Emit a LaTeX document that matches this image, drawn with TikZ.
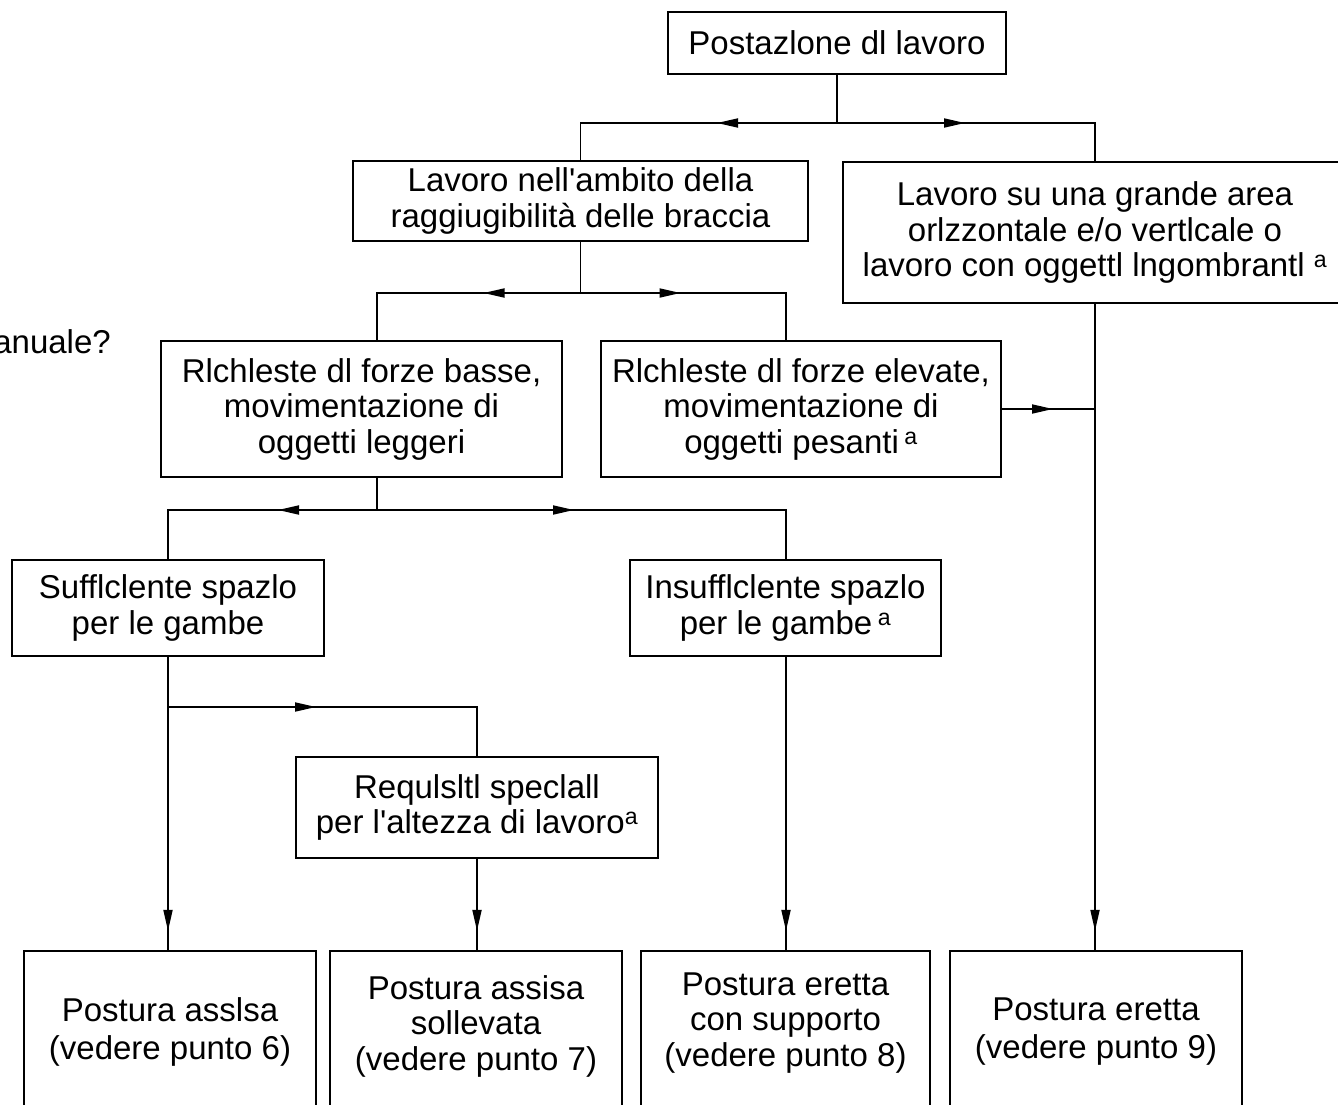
\documentclass[tikz,border=0pt]{standalone}
\usepackage{fontspec}
\setmainfont{Liberation Sans}
\usetikzlibrary{arrows.meta,decorations.markings}
\newcommand\dfont{\fontsize{33}{35.5}\selectfont}
\newcommand\supa{\textsuperscript{a}}
\begin{document}
\begin{tikzpicture}[x=1pt,y=-1pt,
  ln/.style={line width=1.8pt},
  box/.style={draw,line width=1.8pt,inner sep=0pt,align=center,font=\dfont},
  txt/.style={inner sep=0pt,align=center,font=\dfont},
  arrowat/.style={postaction={decorate,decoration={markings,
      mark=at position #1 with {\arrow{Triangle[length=21pt,width=9pt]}}}}}]
\useasboundingbox (0,0) rectangle (1338,1105);
\clip (0,0) rectangle (1338,1105);
\fill[white] (0,0) rectangle (1338,1105);

% boxes
\node[box,minimum width=338,minimum height=62] (top) at (837,43) {Postazlone dl lavoro};
\node[box,minimum width=455,minimum height=80] (lav1) at (580.5,201)
  {Lavoro nell\textquotesingle ambito della\\raggiugibilità delle braccia};
\node[box,minimum width=504,minimum height=141] (big) at (1095,232.5)
  {Lavoro su una grande area\\orlzzontale e/o vertlcale o\\lavoro con oggettl lngombrantl \supa};
\node[box,minimum width=401,minimum height=136] (rich1) at (361.5,409)
  {Rlchleste dl forze basse,\\movimentazione di\\oggetti leggeri};
\node[box,minimum width=400,minimum height=136] (rich2) at (801,409)
  {Rlchleste dl forze elevate,\\movimentazione di\\oggetti pesanti\,\supa};
\node[box,minimum width=312,minimum height=96] (suff) at (168,608)
  {Sufflclente spazlo\\per le gambe};
\node[box,minimum width=311,minimum height=96] (insuff) at (785.5,608)
  {Insufflclente spazlo\\per le gambe\,\supa};
\node[box,minimum width=362,minimum height=101] (req) at (477,807.5)
  {Requlsltl speclall\\per l\textquotesingle altezza di lavoro\supa};

\node[box,minimum width=292,minimum height=200] (p1) at (170,1051) {};
\node[box,minimum width=292,minimum height=200] (p2) at (476,1051) {};
\node[box,minimum width=289,minimum height=200] (p3) at (785.5,1051) {};
\node[box,minimum width=292,minimum height=200] (p4) at (1096,1051) {};
\node[txt,font=\fontsize{33}{38}\selectfont] (p1t) at (170,1032) {Postura asslsa\\(vedere punto 6)};
\node[txt] (p2t) at (476,1026) {Postura assisa\\sollevata\\(vedere punto 7)};
\node[txt] (p3t) at (785.5,1023) {Postura eretta\\con supporto\\(vedere punto 8)};
\node[txt,font=\fontsize{33}{38}\selectfont] (p4t) at (1096,1032) {Postura eretta\\(vedere punto 9)};

\node[txt,anchor=base east] (anu) at (111,353) {anuale?};

% junction coordinates
\coordinate (j1) at (837,123);
\coordinate (c1l) at (580.5,123);
\coordinate (c1r) at (1095,123);
\coordinate (j2) at (580.5,293);
\coordinate (c2l) at (377,293);
\coordinate (c2r) at (786,293);
\coordinate (j3) at (377,510);
\coordinate (c3l) at (168,510);
\coordinate (c3r) at (786,510);
\coordinate (j4) at (168,707);
\coordinate (c4) at (477,707);
\coordinate (r2) at (1001,409);
\coordinate (jr) at (1095,409);

% connectors
\draw[ln] (top.south) -- (j1);
\draw[ln,arrowat=120pt] (j1) -- (c1l) -- (lav1.north);
\draw[ln,arrowat=128pt] (j1) -- (c1r) -- (big.north);
\draw[ln] (lav1.south) -- (j2);
\draw[ln,arrowat=97pt] (j2) -- (c2l) -- (c2l |- rich1.north);
\draw[ln,arrowat=100pt] (j2) -- (c2r) -- (c2r |- rich2.north);
\draw[ln] (j3 |- rich1.south) -- (j3);
\draw[ln,arrowat=99pt] (j3) -- (c3l) -- (suff.north);
\draw[ln,arrowat=197pt] (j3) -- (c3r) -- (c3r |- insuff.north);
\draw[ln,arrowat=52pt] (r2) -- (jr);
\draw[ln,arrowat=627pt] (big.south) -- (big.south |- p4.north);
\draw[ln,arrowat=274pt] (suff.south) -- (suff.south |- p1.north);
\draw[ln,arrowat=148pt] (j4) -- (c4) -- (req.north);
\draw[ln,arrowat=72pt] (req.south) -- (req.south |- p2.north);
\draw[ln,arrowat=274pt] (c3r |- insuff.south) -- (c3r |- p3.north);
\end{tikzpicture}
\end{document}
